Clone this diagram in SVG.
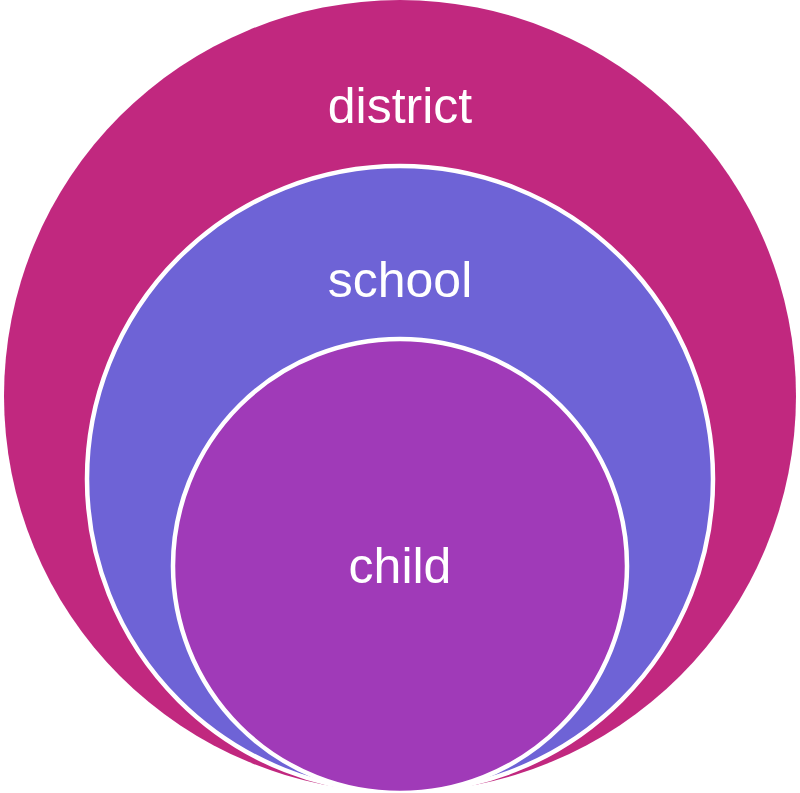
<svg xmlns="http://www.w3.org/2000/svg" width="800" height="793" viewBox="0 0 800 793">
<style>
.lbl{font-family:"Liberation Sans",Arial,sans-serif;font-size:50px;fill:#fff;text-anchor:middle}
.ring{stroke:#fff;stroke-width:4.5}
</style>
<rect width="800" height="793" fill="#fff"/>
<g id="district">
<circle cx="400" cy="396" r="396" fill="#C1287F"/>
<text class="lbl" x="400" y="123">district</text>
</g>
<g id="school">
<circle class="ring" cx="400" cy="479" r="313" fill="#6E63D6"/>
<text class="lbl" x="400" y="297">school</text>
</g>
<g id="child">
<circle class="ring" cx="400" cy="566" r="227" fill="#A03AB8"/>
<text class="lbl" x="400" y="583">child</text>
</g>
<g id="connectors"/>
</svg>
